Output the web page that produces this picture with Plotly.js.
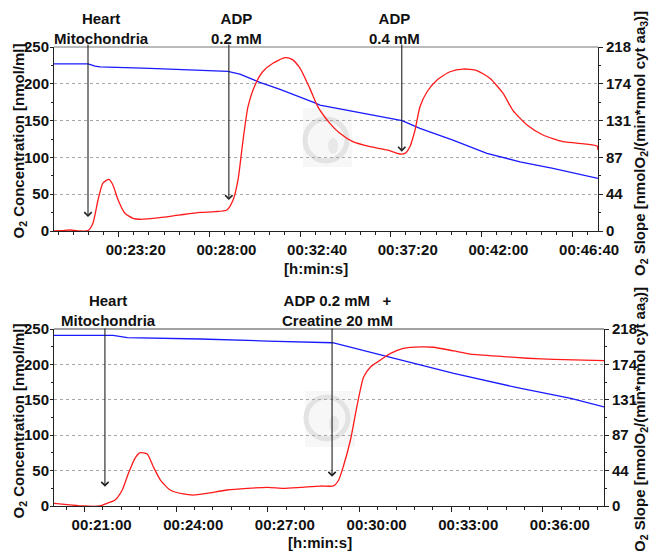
<!DOCTYPE html>
<html>
<head>
<meta charset="utf-8">
<script src="https://cdn.plot.ly/plotly-3.0.1.min.js"></script>
<style>html,body{margin:0;padding:0;background:#fff;}#chart{width:651px;height:551px;}</style>
</head>
<body>
<div id="chart"></div>
<script>
// ---------- DATA ----------
// Top experiment (ADP 0.2 mM, then ADP 0.4 mM)
const topO2Time = ['00:20:00','00:21:45','00:22:07','00:22:22','00:24:56','00:27:31','00:28:57','00:29:34','00:30:36','00:31:38','00:32:24','00:33:26','00:33:41','00:34:12','00:35:23','00:37:08','00:37:55','00:38:50','00:40:32','00:42:17','00:43:59','00:45:41','00:48:00'];
const topO2 = [227,227,224,223,221,219,217,213,202,192.5,185,174,171,168.5,162,154.5,150,139.5,123.6,105.6,94,85,71.6];
const topSlopeTime = ['00:20:00','00:20:25','00:20:49','00:21:14','00:21:45','00:22:00','00:22:16','00:22:31','00:22:50','00:23:02','00:23:18','00:23:39','00:24:04','00:24:26','00:25:27','00:26:29','00:27:31','00:28:17','00:28:54','00:29:13','00:29:28','00:29:44','00:29:59','00:30:21','00:30:45','00:31:16','00:31:53','00:32:15','00:32:40','00:33:10','00:33:35','00:34:12','00:34:43','00:35:23','00:36:16','00:37:08','00:37:48','00:38:04','00:38:19','00:38:35','00:38:50','00:39:12','00:39:43','00:40:23','00:41:03','00:41:46','00:42:26','00:43:07','00:43:37','00:44:21','00:45:10','00:46:12','00:47:26','00:47:57','00:48:00'];
const topSlope = [0,0.5,1.2,0.2,0.5,9,36.7,56.8,61.2,54.5,36.7,21,15,13.9,15.8,19,22,22.9,24.9,36.7,60,108,147,173,189,198.7,205.3,203.4,192.7,169,147,127.6,115.7,105.8,99.9,96,91.2,92,99.9,119.7,147,165,179,188.7,191.9,190,180.9,163,143,125.6,113.7,105.8,103,100.7,96];

// Bottom experiment (ADP 0.2 mM + Creatine 20 mM)
const botO2Time = ['00:20:00','00:21:56','00:22:24','00:24:47','00:26:59','00:29:03','00:29:07','00:30:55','00:33:05','00:35:17','00:36:55','00:38:00'];
const botO2 = [241,241,237.8,235.9,233,230.7,230.6,210.9,187.4,166,152,140];
const botSlopeTime = ['00:20:00','00:20:31','00:20:57','00:21:30','00:21:44','00:22:00','00:22:14','00:22:26','00:22:39','00:22:49','00:23:03','00:23:15','00:23:29','00:23:48','00:24:14','00:24:33','00:25:01','00:25:40','00:26:59','00:27:30','00:28:04','00:28:43','00:29:09','00:29:19','00:29:28','00:29:42','00:29:56','00:30:08','00:30:22','00:30:41','00:31:01','00:31:26','00:32:00','00:32:25','00:33:05','00:33:38','00:34:43','00:35:30','00:36:22','00:38:00'];
const botSlope = [3.3,1.5,0,0,3.3,7.4,19.7,40,58.7,65.7,64,48.4,32,19.7,14.8,13.5,15.6,19.7,23,21.8,23,24.6,24.8,32,48.4,81,126.5,159,171.6,179.8,188,194,196,195.5,191,187,184,182,180.6,179];

// Axis ticks
const o2TickVals = [0,50,100,150,200,250];
const slopeTickVals = [0,43.6,87.2,130.8,174.4,218];
const slopeTickText = ['0','44','87','131','174','218'];

// Event markers
const topEventLabels = ['Heart<br>Mitochondria','ADP<br>0.2 mM','ADP<br>0.4 mM'];
const topEventTime = ['00:21:45','00:29:00','00:37:54'];
const topEventSlope = [16.6,36.7,94];
const botEventLabels = ['Heart<br>Mitochondria','ADP 0.2 mM\u00a0\u00a0\u00a0+<br>Creatine 20 mM'];
const botEventTime = ['00:21:40','00:29:06'];
const botEventSlope = [23.8,36.1];

// ---------- BUILD ----------
const D = s => '2000-01-01 ' + s;
const W = 651, H = 551;
const FONT = 'Liberation Sans, Arial, Helvetica, sans-serif';
const f15 = {family: FONT, size: 15, color: '#111', weight: 700};
const px = v => v / W, py = v => 1 - v / H;

const traces = [
  {x: topO2Time.map(D), y: topO2, xaxis: 'x', yaxis: 'y', mode: 'lines', line: {color: '#1a1aff', width: 1.3}, hoverinfo: 'skip'},
  {x: topSlopeTime.map(D), y: topSlope, xaxis: 'x', yaxis: 'y2', mode: 'lines', line: {color: '#ff1a1a', width: 1.3, shape: 'spline', smoothing: 0.6}, hoverinfo: 'skip'},
  {x: botO2Time.map(D), y: botO2, xaxis: 'x2', yaxis: 'y3', mode: 'lines', line: {color: '#1a1aff', width: 1.3}, hoverinfo: 'skip'},
  {x: botSlopeTime.map(D), y: botSlope, xaxis: 'x2', yaxis: 'y4', mode: 'lines', line: {color: '#ff1a1a', width: 1.3, shape: 'spline', smoothing: 0.6}, hoverinfo: 'skip'}
];

const axisCommon = {showline: true, linecolor: '#222', linewidth: 1, ticks: 'outside', tickcolor: '#222', tickfont: f15, zeroline: false, fixedrange: true};

function xAx(domain, anchor, r0, r1, t0, dt, mdt) {
  return Object.assign({}, axisCommon, {
    type: 'date', domain: domain, anchor: anchor, range: [D(r0), D(r1)],
    tickformat: '%H:%M:%S', tick0: D(t0), dtick: dt, ticklen: 5, ticklabelshift: 17,
    showgrid: false, mirror: false,
    minor: {dtick: mdt, tick0: D(t0), ticks: 'outside', ticklen: 3, tickcolor: '#222', showgrid: false}
  });
}
function yLeft(domain, anchor) {
  return Object.assign({}, axisCommon, {
    domain: domain, anchor: anchor, range: [0, 250], tickvals: o2TickVals, ticklen: 3,
    showgrid: true, gridcolor: '#a6a6a6', griddash: 'dot', gridwidth: 1, ticklabelstandoff: -2,
    minor: {dtick: 25, tick0: 0, ticks: 'outside', ticklen: 2, tickcolor: '#222', showgrid: false}
  });
}
function yRight(over, anchor) {
  return Object.assign({}, axisCommon, {
    overlaying: over, anchor: anchor, side: 'right', range: [0, 218],
    tickmode: 'array', tickvals: slopeTickVals, ticktext: slopeTickText, ticklen: 4, showgrid: false,
    minor: {tickmode: 'linear', dtick: 21.8, tick0: 0, ticks: 'outside', ticklen: 2, tickcolor: '#222', showgrid: false}
  });
}

const annotations = [];
function addEvents(labels, times, slopes, xr, yr, textXs, textY, tailY, tipYs) {
  labels.forEach((lab, i) => {
    annotations.push({xref: 'paper', yref: 'paper', x: px(textXs[i]), y: py(textY), xanchor: 'center', yanchor: 'middle', text: lab, showarrow: false, font: f15, align: 'center'});
    annotations.push({xref: xr, yref: yr, x: D(times[i]), y: slopes[i], text: '', showarrow: true, arrowhead: 4, arrowsize: 1.3, arrowwidth: 1.1, arrowcolor: '#222', ax: 0, ay: tailY - tipYs[i], standoff: 0});
  });
}
addEvents(topEventLabels, topEventTime, topEventSlope, 'x', 'y2', [102, 237, 394], 28, 43, [217, 200, 151.7]);
addEvents(botEventLabels, botEventTime, botEventSlope, 'x2', 'y4', [108, 337], 310, 327, [486.7, 476.7]);

// Axis titles
const titles = [
  {x: 18.5, y: 141, a: -90, t: 'O<sub>2</sub> Concentration [nmol/ml]'},
  {x: 640, y: 144, a: -90, t: 'O<sub>2</sub> Slope [nmolO<sub>2</sub>/(min*nmol cyt aa<sub>3</sub>)]'},
  {x: 316, y: 268, a: 0, t: '[h:min:s]'},
  {x: 18.5, y: 421, a: -90, t: 'O<sub>2</sub> Concentration [nmol/ml]'},
  {x: 640, y: 420, a: -90, t: 'O<sub>2</sub> Slope [nmolO<sub>2</sub>/(min*nmol cyt aa<sub>3</sub>)]'},
  {x: 320, y: 542, a: 0, t: '[h:min:s]'}
];
titles.forEach(o => annotations.push({xref: 'paper', yref: 'paper', x: px(o.x), y: py(o.y), xanchor: 'center', yanchor: 'middle', textangle: o.a, text: o.t, showarrow: false, font: f15}));

// Plot frames (top edges) and faint watermark logos
const shapes = [
  {type: 'line', xref: 'paper', yref: 'paper', x0: px(54), x1: px(598), y0: py(47), y1: py(47), line: {color: '#777', width: 1}},
  {type: 'line', xref: 'paper', yref: 'paper', x0: px(54), x1: px(604), y0: py(329), y1: py(329), line: {color: '#444', width: 1}}
];
[[303, 108, 352, 167, 326, 140], [305, 391, 355, 447, 327, 418]].forEach(w => {
  shapes.push({type: 'rect', xref: 'paper', yref: 'paper', x0: px(w[0]), x1: px(w[2]), y0: py(w[3]), y1: py(w[1]), fillcolor: '#f7f7f7', line: {width: 0}, layer: 'below'});
  shapes.push({type: 'circle', xref: 'paper', yref: 'paper', x0: px(w[4] - 21), x1: px(w[4] + 21), y0: py(w[5] + 21), y1: py(w[5] - 21), fillcolor: 'rgba(0,0,0,0)', line: {color: '#e3e3e3', width: 5}, layer: 'below'});
  shapes.push({type: 'circle', xref: 'paper', yref: 'paper', x0: px(w[4] + 2), x1: px(w[4] + 12), y0: py(w[5] + 14), y1: py(w[5] - 2), fillcolor: '#e8e8e8', line: {width: 0}, layer: 'below'});
});

const layout = {
  width: W, height: H, margin: {l: 0, r: 0, t: 0, b: 0},
  paper_bgcolor: '#fff', plot_bgcolor: 'rgba(0,0,0,0)', showlegend: false,
  font: {family: FONT, size: 15, color: '#111'},
  xaxis: xAx([54 / W, 598 / W], 'y', '00:20:00', '00:48:00', '00:23:20', 280000, 280000 / 6),
  yaxis: yLeft([py(231), py(47)], 'x'),
  yaxis2: yRight('y', 'x'),
  xaxis2: xAx([54 / W, 604 / W], 'y3', '00:20:00', '00:38:00', '00:21:00', 180000, 36000),
  yaxis3: yLeft([py(506), py(329)], 'x2'),
  yaxis4: yRight('y3', 'x2'),
  annotations: annotations,
  shapes: shapes
};

Plotly.newPlot('chart', traces, layout, {staticPlot: true, displayModeBar: false});
</script>
</body>
</html>
